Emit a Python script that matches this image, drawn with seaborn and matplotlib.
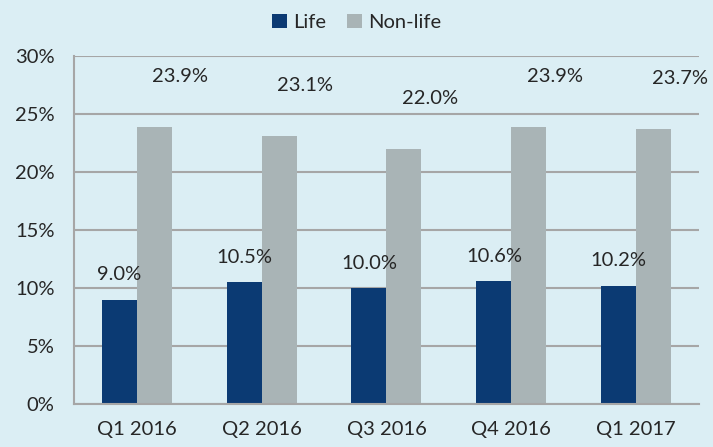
import pandas as pd
import matplotlib.pyplot as plt
import seaborn as sns

quarters = ["Q1 2016", "Q2 2016", "Q3 2016", "Q4 2016", "Q1 2017"]
life = [9.0, 10.5, 10.0, 10.6, 10.2]
non_life = [23.9, 23.1, 22.0, 23.9, 23.7]

df = pd.DataFrame({
    "quarter": quarters * 2,
    "value": life + non_life,
    "type": ["Life"] * 5 + ["Non-life"] * 5,
})

bg = "#dbeef4"
sns.set_style("white")
plt.rcParams['font.family'] = ['Lato', 'DejaVu Sans']
fs = 14.5

fig, ax = plt.subplots(figsize=(7.13, 4.47), dpi=100)
fig.patch.set_facecolor(bg)
ax.set_facecolor(bg)

sns.barplot(data=df, x="quarter", y="value", hue="type",
            palette=["#0b3a73", "#a9b4b6"], width=0.56, ax=ax,
            saturation=1, linewidth=0)

ax.set_ylim(0, 30)
ax.set_yticks(range(0, 31, 5))
ax.set_yticklabels([f"{v}%" for v in range(0, 31, 5)], fontsize=fs)
ax.tick_params(axis='x', labelsize=fs, length=0, pad=12)
ax.tick_params(axis='y', length=0, pad=14)
ax.set_xlabel("")
ax.set_ylabel("")
ax.yaxis.grid(True, color="#a6a6a6", linewidth=1.5)
ax.set_axisbelow(True)
for s in ["top", "right"]:
    ax.spines[s].set_visible(False)
for s in ["left", "bottom"]:
    ax.spines[s].set_color("#a6a6a6")
    ax.spines[s].set_linewidth(1.5)

# data labels
for cont, dx, dy in zip(ax.containers, [0, 19], [18, 36]):
    for bar in cont:
        h = bar.get_height()
        ax.annotate(f"{h:.1f}%", (bar.get_x() + bar.get_width() / 2, h),
                    xytext=(dx, dy), textcoords="offset points",
                    ha="center", va="center", fontsize=fs)

ax.legend(loc="upper center", bbox_to_anchor=(0.5, 1.01), bbox_transform=fig.transFigure,
          ncol=2, frameon=False, fontsize=fs, handlelength=0.75, handleheight=0.75,
          handletextpad=0.3, columnspacing=1.0)

fig.subplots_adjust(left=0.104, right=0.98, top=0.875, bottom=0.096)
fig.savefig("out.png", dpi=100, facecolor=bg)
